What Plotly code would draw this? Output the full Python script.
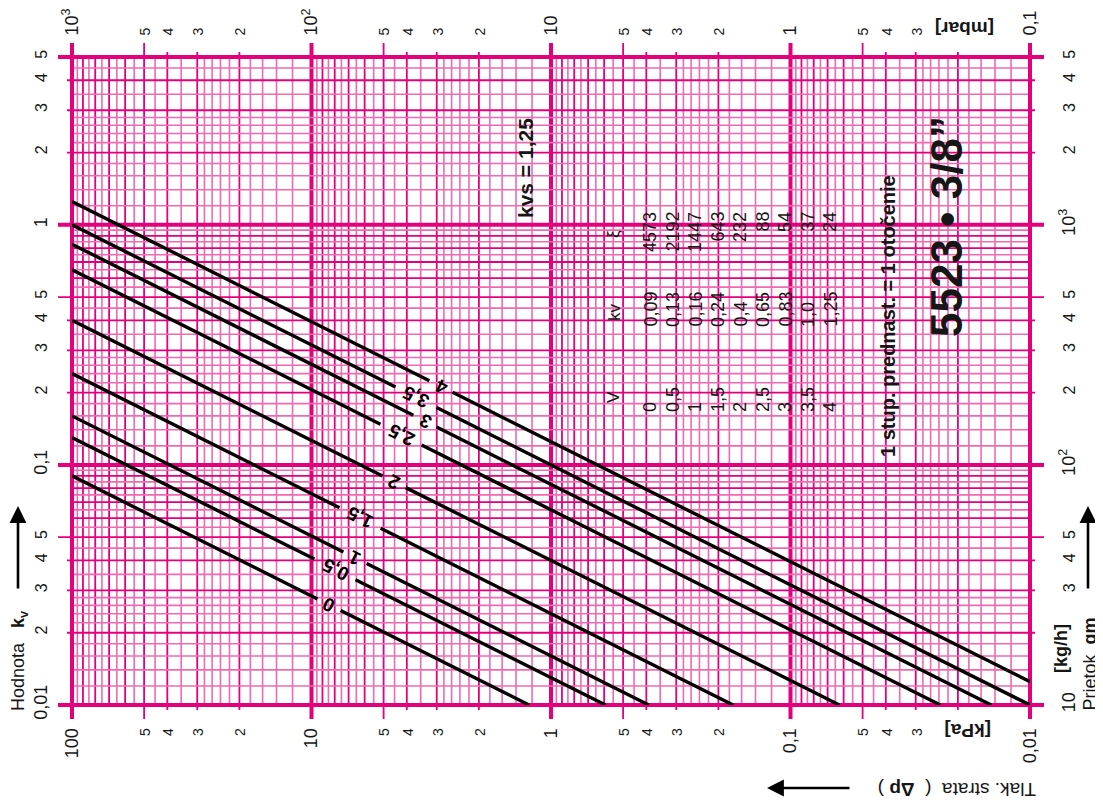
import math
import plotly.graph_objects as go

# ---------------- data ----------------
setting_labels = ["0", "0,5", "1", "1,5", "2", "2,5", "3", "3,5", "4"]
kv_values = [0.09, 0.13, 0.16, 0.24, 0.4, 0.65, 0.83, 1.0, 1.25]
kv_labels = ["0,09", "0,13", "0,16", "0,24", "0,4", "0,65", "0,83", "1,0", "1,25"]
xi_labels = ["4573", "2192", "1447", "643", "232", "88", "54", "37", "24"]
kvs_label = "1,25"
dp_ref_kpa = 100.0          # kv is defined at 1 bar = 100 kPa
kv_axis_min = 0.01
kv_axis_max = 5.0
dp_axis_left = 100.0
dp_axis_right = 0.01

# bottom axis (kPa)
x_tickvals = [100, 50, 40, 30, 20, 10, 5, 4, 3, 2, 1, 0.5, 0.4, 0.3, 0.2,
              0.1, 0.05, 0.04, 0.03, 0.01]
x_ticktext = ["100", "5", "4", "3", "2", "10", "5", "4", "3", "2", "1", "5", "4", "3", "2",
              "0,1", "5", "4", "3", "0,01"]
# top axis (mbar)
x2_tickvals = [1000, 500, 400, 300, 200, 100, 50, 40, 30, 20, 10, 5, 4, 3, 2,
               1, 0.5, 0.4, 0.3, 0.1]
x2_ticktext = ["10<sup>3</sup>", "5", "4", "3", "2", "10<sup>2</sup>", "5", "4", "3", "2",
               "10", "5", "4", "3", "2", "1", "5", "4", "3", "0,1"]
# left axis (kv)
y_tickvals = [0.01, 0.02, 0.03, 0.04, 0.05, 0.1, 0.2, 0.3, 0.4, 0.5, 1, 2, 3, 4, 5]
y_ticktext = ["0,01", "2", "3", "4", "5", "0,1", "2", "3", "4", "5", "1", "2", "3", "4", "5"]
# right axis (kg/h)
y2_tickvals = [10, 30, 40, 50, 100, 200, 300, 400, 500, 1000, 2000, 3000, 4000, 5000]
y2_ticktext = ["10", "3", "4", "5", "10<sup>2</sup>", "2", "3", "4", "5",
               "10<sup>3</sup>", "2", "3", "4", "5"]

# ---------------- layout constants ----------------
W, H = 1103, 804
OFF = 8                      # page body margin
PL, PR, PT, PB = 72, 1030, 57, 705
PW, PH = PR - PL, PB - PT
DEC_PX = PW / 4.0
FONT = "Liberation Sans, Arial, Helvetica, sans-serif"
TXT = "#161616"
DARK = "#E4007C"
LIGHT = "#F06AB2"
LABEL_DP = [8.45, 7.98, 6.58, 6.27, 4.52, 4.23, 3.36, 3.66, 2.88]
LABEL_ANGLE = -153.4
NB = "\u00a0"


def xp(px):
    return (px - PL) / PW


def yp(py):
    return (PB - py) / PH


def small(t, size):
    return t if not (len(t) == 1 and t in "2345") else f'<span style="font-size:{size}px">{t}</span>'


fig = go.Figure()

# ---------------- grid as shapes ----------------
dark_mult = [1, 2, 3, 4, 5, 6, 7, 8, 9]
light_mult = [1.2, 1.4, 1.6, 1.8, 2.2, 2.4, 2.6, 2.8, 3.5, 4.5, 5.5, 6.5, 7.5, 8.5, 9.5]
shapes = []


def ext_for(m):
    if m in (1, 5):
        return 14
    if m in (2, 3, 4):
        return 5
    return 0


for base in [0.01, 0.1, 1, 10]:
    for m in light_mult:
        v = base * m
        shapes.append(dict(type="line", xref="x", yref="paper", x0=v, x1=v, y0=0, y1=1,
                           line=dict(color=LIGHT, width=1.6), layer="below"))
    for m in dark_mult:
        v = base * m
        e = ext_for(m) / PH
        w = 4 if m == 1 else 1.8
        if abs(v - dp_axis_left) < 1e-9 or abs(v - dp_axis_right) < 1e-12:
            continue
        shapes.append(dict(type="line", xref="x", yref="paper", x0=v, x1=v, y0=-e, y1=1 + e,
                           line=dict(color=DARK, width=w), layer="below"))
for base in [0.01, 0.1, 1]:
    for m in light_mult:
        v = base * m
        if v > kv_axis_max:
            continue
        shapes.append(dict(type="line", xref="paper", yref="y", x0=0, x1=1, y0=v, y1=v,
                           line=dict(color=LIGHT, width=1.6), layer="below"))
    for m in dark_mult:
        v = base * m
        if v >= kv_axis_max - 1e-9 or abs(v - kv_axis_min) < 1e-12:
            continue
        e = ext_for(m) / PW
        w = 4 if m == 1 else 1.8
        shapes.append(dict(type="line", xref="paper", yref="y", x0=-e, x1=1 + e, y0=v, y1=v,
                           line=dict(color=DARK, width=w), layer="below"))
# plot borders (decade lines at the range ends + top "5" line), with tick extensions
ev, eh = 14 / PH, 14 / PW
for xx in (0, 1):
    shapes.append(dict(type="line", xref="paper", yref="paper", x0=xx, x1=xx, y0=-ev, y1=1 + ev,
                       line=dict(color=DARK, width=4), layer="below"))
for yy in (0, 1):
    shapes.append(dict(type="line", xref="paper", yref="paper", x0=-eh, x1=1 + eh, y0=yy, y1=yy,
                       line=dict(color=DARK, width=4), layer="below"))

# ---------------- kv lines ----------------
annotations = []
for kv, lab, dpl in zip(kv_values, setting_labels, LABEL_DP):
    dp_end = max(dp_ref_kpa * (kv_axis_min / kv) ** 2, dp_axis_right)
    half = 0.894 * (8 + 5 * len(lab)) / DEC_PX
    a = dpl * 10 ** half
    b = dpl * 10 ** (-half)
    xs = [dp_ref_kpa, a, None, b, dp_end]
    ys = [None if x is None else kv * math.sqrt(x / dp_ref_kpa) for x in xs]
    fig.add_trace(go.Scatter(x=xs, y=ys, mode="lines", line=dict(color="black", width=3.4),
                             hoverinfo="skip", showlegend=False, connectgaps=False))
    yl = kv * math.sqrt(dpl / dp_ref_kpa)
    annotations.append(dict(x=math.log10(dpl), y=math.log10(yl), xref="x", yref="y",
                            xanchor="center", yanchor="middle",
                            text=f"<b>{lab}</b>", showarrow=False, textangle=LABEL_ANGLE,
                            font=dict(size=19, color="black", family=FONT)))

# anchor trace for the secondary axes
fig.add_trace(go.Scatter(x=[], y=[], xaxis="x2", yaxis="y2", showlegend=False, hoverinfo="skip"))

# ---------------- table ----------------
TX0, TDX = 650, 22.5
hdr_font = dict(size=17, color=TXT, family=FONT)
cell_font = dict(size=18, color=TXT, family=FONT)


def cell(px, py, text, font, ya="middle"):
    return dict(x=xp(px), y=yp(py), xref="paper", yref="paper", text=text, showarrow=False,
                textangle=-90, xanchor="center", yanchor=ya, font=font)


annotations += [
    cell(613, 397, "V", hdr_font),
    cell(614, 312, "kv", hdr_font),
    cell(613, 234, "ξ", hdr_font),
]
for i, (v, k, z) in enumerate(zip(setting_labels, kv_labels, xi_labels)):
    px = TX0 + TDX * i
    annotations.append(cell(px, 414, v, cell_font, "bottom"))
    annotations.append(cell(px, 329, k, cell_font, "bottom"))
    annotations.append(cell(px, 210, z, cell_font, "top"))


# ---------------- titles and texts ----------------
def ann(px, py, text, size, angle=-90, xa="center", ya="middle"):
    return dict(x=xp(px), y=yp(py), xref="paper", yref="paper", text=text, showarrow=False,
                textangle=angle, xanchor=xa, yanchor=ya, font=dict(size=size, color=TXT, family=FONT))


annotations += [
    ann(19, 713, f"Hodnota{NB}{NB}{NB}<b>k<sub>v</sub></b>", 18, ya="bottom"),
    ann(1089, 713, f"Prietok{NB}{NB}<b>qm</b>", 18, ya="bottom"),
    ann(1061, 649, "<b>[kg/h]</b>", 18),
    ann(1038, 790, f"Tlak. strata {NB}({NB} <b>Δp</b> )", 19, angle=180, xa="right"),
    ann(968, 731, "<b>[kPa]</b>", 19, angle=180),
    ann(965, 28, "<b>[mbar]</b>", 19, angle=180),
    ann(525, 168, f"<b>kvs = {kvs_label}</b>", 21),
    ann(888, 316, "<b>1 stup. prednast. = 1 otočenie</b>", 20),
    ann(946, 227, "<b>5523 • 3/8”</b>", 44),
]
for (hx, hy, axp, ayp) in [(18, 506, 0, 84), (1088, 506, 0, 84), (767, 788, 84, 0)]:
    annotations.append(dict(x=xp(hx), y=yp(hy), xref="paper", yref="paper", text="",
                            showarrow=True, ax=axp, ay=ayp, arrowhead=2, arrowsize=1.3,
                            arrowwidth=2.6, arrowcolor="black", standoff=0, startstandoff=0))

common = dict(type="log", showgrid=False, zeroline=False, showline=False, ticks="outside",
              tickcolor="rgba(0,0,0,0)", automargin=False, tickmode="array")

fig.update_layout(
    width=W - OFF, height=H - OFF,
    margin=dict(l=PL - OFF, r=W - PR, t=PT - OFF, b=H - PB, pad=0),
    paper_bgcolor="white", plot_bgcolor="white",
    font=dict(family=FONT, color=TXT),
    showlegend=False,
    xaxis=dict(common, range=[math.log10(dp_axis_left), math.log10(dp_axis_right)],
               tickvals=x_tickvals, ticktext=[small(t, 14) for t in x_ticktext],
               tickangle=-90, ticklen=15, tickfont=dict(size=18, color=TXT, family=FONT)),
    xaxis2=dict(common, overlaying="x", side="top", anchor="y",
                range=[math.log10(dp_axis_left * 10), math.log10(dp_axis_right * 10)],
                tickvals=x2_tickvals, ticktext=[small(t, 14) for t in x2_ticktext],
                tickangle=-90, ticklen=17, tickfont=dict(size=18, color=TXT, family=FONT)),
    yaxis=dict(common, range=[math.log10(kv_axis_min), math.log10(kv_axis_max)],
               tickvals=y_tickvals, ticktext=[small(t, 16) for t in y_ticktext],
               tickangle=-90, ticklen=17, tickfont=dict(size=18, color=TXT, family=FONT)),
    yaxis2=dict(common, overlaying="y", side="right", anchor="x",
                range=[math.log10(kv_axis_min * 1000), math.log10(kv_axis_max * 1000)],
                tickvals=y2_tickvals, ticktext=[small(t, 16) for t in y2_ticktext],
                tickangle=-90, ticklen=22, tickfont=dict(size=18, color=TXT, family=FONT)),
    shapes=shapes,
    annotations=annotations,
)

fig.write_html("out.html")
